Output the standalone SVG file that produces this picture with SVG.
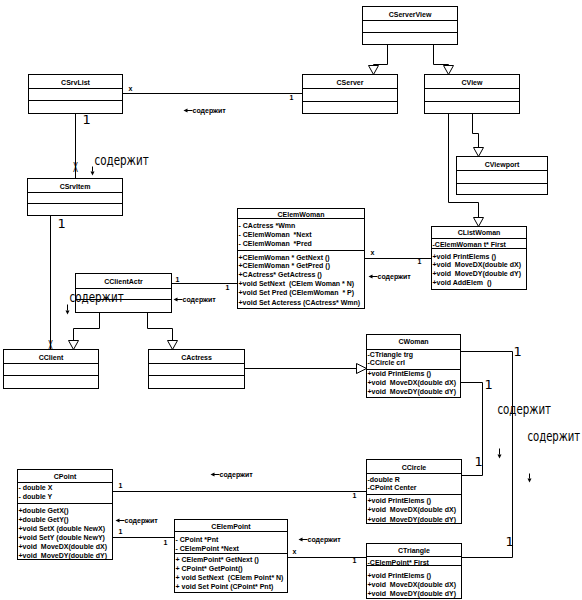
<svg xmlns="http://www.w3.org/2000/svg" width="582" height="600" viewBox="0 0 582 600">
<style>
.box{fill:#fff;stroke:#000;stroke-width:1}
.dv{stroke:#000;stroke-width:1}
.ln{fill:none;stroke:#000;stroke-width:1}
.tri{fill:#fff;stroke:#000;stroke-width:1}
.t{font-family:"Liberation Sans",Arial,sans-serif;font-weight:bold;font-size:7px;white-space:pre;fill:#000}
.h{text-anchor:middle}
.big{font-family:"DejaVu Sans",sans-serif;font-size:14px;fill:#000}
.one{font-family:"DejaVu Sans",sans-serif;font-size:13px;fill:#000}
.ah{fill:#000}
</style>
<rect width="582" height="600" fill="#fff"/>
<g transform="translate(0.5,0.5)">
<g id="connectors">
  <!-- CSrvList - CServer -->
  <line class="ln" x1="122" y1="93" x2="302" y2="93"/>
  <text class="t" x="128" y="90">x</text>
  <text class="t" x="289" y="99">1</text>
  <!-- CSrvList - CSrvItem -->
  <line class="ln" x1="75" y1="113" x2="75" y2="178"/>
  <text class="one" x="82" y="123">1</text>
  <text class="big h" x="75" y="171" font-size="11" textLength="5" lengthAdjust="spacingAndGlyphs">X</text>
  <!-- CSrvItem - CClient -->
  <line class="ln" x1="50" y1="215" x2="50" y2="349"/>
  <text class="one" x="57" y="227">1</text>
  <text class="big h" x="50" y="349" font-size="11" textLength="5" lengthAdjust="spacingAndGlyphs">X</text>
  <!-- CServerView inheritance -->
  <path class="ln" d="M387,44 V64 H373 V65"/>
  <polygon class="tri" points="368,65 378,65 373,74"/>
  <path class="ln" d="M433,44 V64 H448 V65"/>
  <polygon class="tri" points="443,65 453,65 448,74"/>
  <!-- CView inheritance -->
  <path class="ln" d="M472,113 V133 H478 V147"/>
  <polygon class="tri" points="473,147 483,147 478,156"/>
  <path class="ln" d="M448,113 V202 H478 V217"/>
  <polygon class="tri" points="473,217 483,217 478,226"/>
  <!-- CElemWoman - CListWoman -->
  <line class="ln" x1="364" y1="258" x2="431" y2="258"/>
  <text class="t" x="370" y="254">x</text>
  <text class="t" x="417" y="263">1</text>
  <!-- CClientActr - CElemWoman -->
  <line class="ln" x1="171" y1="283" x2="237" y2="283"/>
  <text class="t" x="175" y="281">1</text>
  <text class="t" x="225" y="289">1</text>
  <!-- CClientActr inheritance -->
  <path class="ln" d="M99,312 V328 H73 V340"/>
  <polygon class="tri" points="68,340 78,340 73,349"/>
  <path class="ln" d="M147,312 V328 H172 V340"/>
  <polygon class="tri" points="167,340 177,340 172,349"/>
  <!-- CActress - CWoman -->
  <line class="ln" x1="244" y1="368" x2="356" y2="368"/>
  <polygon class="tri" points="356,363 356,373 366,368"/>
  <!-- CWoman - CTriangle -->
  <path class="ln" d="M460,351 H512 V557 H461"/>
  <text class="one" x="513" y="355">1</text>
  <text class="one" x="505" y="545">1</text>
  <!-- CWoman - CCircle -->
  <path class="ln" d="M460,382 H482 V475 H461"/>
  <text class="one" x="484" y="388">1</text>
  <text class="one" x="474" y="465">1</text>
  <!-- CPoint - CCircle -->
  <line class="ln" x1="112" y1="491" x2="366" y2="491"/>
  <text class="t" x="118" y="487">1</text>
  <text class="t" x="352" y="497">1</text>
  <!-- CPoint - CElemPoint -->
  <line class="ln" x1="112" y1="537" x2="174" y2="537"/>
  <text class="t" x="118" y="533">1</text>
  <text class="t" x="163" y="544">1</text>
  <!-- CElemPoint - CTriangle -->
  <line class="ln" x1="287" y1="557" x2="366" y2="557"/>
  <text class="t" x="292" y="553">x</text>
  <text class="t" x="352" y="562">1</text>
  <!-- small "содержит" labels -->
  <g>
    <polygon class="ah" points="183,110 187,108 187,112"/><line class="ln" x1="185" y1="110" x2="192" y2="110"/>
    <text class="t" x="192" y="112">содержит</text>
    <polygon class="ah" points="173,299 177,297 177,301"/><line class="ln" x1="175" y1="299" x2="182" y2="299"/>
    <text class="t" x="182" y="301">содержит</text>
    <polygon class="ah" points="368,276 372,274 372,278"/><line class="ln" x1="370" y1="276" x2="377" y2="276"/>
    <text class="t" x="377" y="278">содержит</text>
    <polygon class="ah" points="210,474 214,472 214,476"/><line class="ln" x1="212" y1="474" x2="219" y2="474"/>
    <text class="t" x="219" y="476">содержит</text>
    <polygon class="ah" points="115,520 119,518 119,522"/><line class="ln" x1="117" y1="520" x2="124" y2="520"/>
    <text class="t" x="124" y="522">содержит</text>
    <polygon class="ah" points="298,539 302,537 302,541"/><line class="ln" x1="300" y1="539" x2="307" y2="539"/>
    <text class="t" x="307" y="541">содержит</text>
  </g>
</g>
<g id="CServerView">
  <rect class="box" x="362" y="6" width="95" height="38"/>
  <line class="dv" x1="362" y1="20" x2="457" y2="20"/><line class="dv" x1="362" y1="32" x2="457" y2="32"/>
  <text class="t h" x="409.5" y="16">CServerView</text>
</g>
<g id="CSrvList">
  <rect class="box" x="28" y="74" width="94" height="39"/>
  <line class="dv" x1="28" y1="88" x2="122" y2="88"/><line class="dv" x1="28" y1="100" x2="122" y2="100"/>
  <text class="t h" x="75" y="84">CSrvList</text>
</g>
<g id="CServer">
  <rect class="box" x="302" y="74" width="95" height="39"/>
  <line class="dv" x1="302" y1="88" x2="397" y2="88"/><line class="dv" x1="302" y1="101" x2="397" y2="101"/>
  <text class="t h" x="349.5" y="84">CServer</text>
</g>
<g id="CView">
  <rect class="box" x="424" y="74" width="95" height="39"/>
  <line class="dv" x1="424" y1="88" x2="519" y2="88"/><line class="dv" x1="424" y1="101" x2="519" y2="101"/>
  <text class="t h" x="471.5" y="84">CView</text>
</g>
<g id="CViewport">
  <rect class="box" x="456" y="156" width="91" height="38"/>
  <line class="dv" x1="456" y1="170" x2="547" y2="170"/><line class="dv" x1="456" y1="183" x2="547" y2="183"/>
  <text class="t h" x="501.5" y="166">CViewport</text>
</g>
<g id="CSrvItem">
  <rect class="box" x="27" y="178" width="95" height="37"/>
  <line class="dv" x1="27" y1="192" x2="122" y2="192"/><line class="dv" x1="27" y1="203" x2="122" y2="203"/>
  <text class="t h" x="74.5" y="188">CSrvItem</text>
</g>
<g id="CElemWoman">
  <rect class="box" x="237" y="208" width="127" height="100"/>
  <line class="dv" x1="237" y1="218" x2="364" y2="218"/><line class="dv" x1="237" y1="250" x2="364" y2="250"/>
  <text class="t h" x="300.5" y="216">CElemWoman</text>
  <text class="t" x="238" y="227">- CActress *Wmn</text>
  <text class="t" x="238" y="236">- CElemWoman  *Next</text>
  <text class="t" x="238" y="245">- CElemWoman  *Pred</text>
  <text class="t" x="238" y="259">+CElemWoman * GetNext ()</text>
  <text class="t" x="238" y="267.5">+CElemWoman * GetPred ()</text>
  <text class="t" x="238" y="276">+CActress* GetActress ()</text>
  <text class="t" x="238" y="285">+void SetNext  (CElem Woman * N)</text>
  <text class="t" x="238" y="294">+void Set Pred (CElemWoman  * P)</text>
  <text class="t" x="238" y="304">+void Set Acteress (CActress* Wmn)</text>
</g>
<g id="CListWoman">
  <rect class="box" x="431" y="226" width="95" height="63"/>
  <line class="dv" x1="431" y1="238" x2="526" y2="238"/><line class="dv" x1="431" y1="248" x2="526" y2="248"/>
  <text class="t h" x="478.5" y="234">CListWoman</text>
  <text class="t" x="432" y="246">-CElemWoman t* First</text>
  <text class="t" x="432" y="258.5">+void PrintElems ()</text>
  <text class="t" x="432" y="266.5">+void  MoveDX(double dX)</text>
  <text class="t" x="432" y="275">+void  MoveDY(double dY)</text>
  <text class="t" x="432" y="284">+void AddElem  ()</text>
</g>
<g id="CClientActr">
  <rect class="box" x="75" y="273" width="96" height="39"/>
  <line class="dv" x1="75" y1="288" x2="171" y2="288"/><line class="dv" x1="75" y1="299" x2="171" y2="299"/>
  <text class="t h" x="123" y="283">CClientActr</text>
</g>
<g id="CClient">
  <rect class="box" x="3" y="349" width="95" height="39"/>
  <line class="dv" x1="3" y1="363" x2="98" y2="363"/><line class="dv" x1="3" y1="375" x2="98" y2="375"/>
  <text class="t h" x="50.5" y="359">CClient</text>
</g>
<g id="CActress">
  <rect class="box" x="148" y="349" width="96" height="39"/>
  <line class="dv" x1="148" y1="363" x2="244" y2="363"/><line class="dv" x1="148" y1="375" x2="244" y2="375"/>
  <text class="t h" x="196" y="359">CActress</text>
</g>
<g id="CWoman">
  <rect class="box" x="366" y="334" width="94" height="63"/>
  <line class="dv" x1="366" y1="349" x2="460" y2="349"/><line class="dv" x1="366" y1="369" x2="460" y2="369"/>
  <text class="t h" x="413" y="343">CWoman</text>
  <text class="t" x="367" y="356">-CTriangle trg</text>
  <text class="t" x="367" y="364">-CCircle crl</text>
  <text class="t" x="367" y="375">+void PrintElems ()</text>
  <text class="t" x="367" y="384">+void  MoveDX(double dX)</text>
  <text class="t" x="367" y="393">+void  MoveDY(double dY)</text>
</g>
<g id="CCircle">
  <rect class="box" x="366" y="459" width="95" height="64"/>
  <line class="dv" x1="366" y1="473" x2="461" y2="473"/><line class="dv" x1="366" y1="494" x2="461" y2="494"/>
  <text class="t h" x="413.5" y="469">CCircle</text>
  <text class="t" x="367" y="481.5">-double R</text>
  <text class="t" x="367" y="489">-CPoint Center</text>
  <text class="t" x="367" y="502">+void PrintElems ()</text>
  <text class="t" x="367" y="511.5">+void  MoveDX(double dX)</text>
  <text class="t" x="367" y="521">+void  MoveDY(double dY)</text>
</g>
<g id="CTriangle">
  <rect class="box" x="366" y="543" width="95" height="55"/>
  <line class="dv" x1="366" y1="556" x2="461" y2="556"/><line class="dv" x1="366" y1="565" x2="461" y2="565"/>
  <text class="t h" x="413.5" y="552">CTriangle</text>
  <text class="t" x="367" y="564">-CElemPoint* First</text>
  <text class="t" x="367" y="577">+void PrintElems ()</text>
  <text class="t" x="367" y="586">+void  MoveDX(double dX)</text>
  <text class="t" x="367" y="595">+void  MoveDY(double dY)</text>
</g>
<g id="CPoint">
  <rect class="box" x="17" y="469" width="95" height="90"/>
  <line class="dv" x1="17" y1="482" x2="112" y2="482"/><line class="dv" x1="17" y1="503" x2="112" y2="503"/>
  <text class="t h" x="64.5" y="478.5">CPoint</text>
  <text class="t" x="18" y="489">- double X</text>
  <text class="t" x="18" y="498">- double Y</text>
  <text class="t" x="18" y="512">+double GetX()</text>
  <text class="t" x="18" y="521">+double GetY()</text>
  <text class="t" x="18" y="530">+void SetX (double NewX)</text>
  <text class="t" x="18" y="539">+void SetY (double NewY)</text>
  <text class="t" x="18" y="548">+void  MoveDX(double dX)</text>
  <text class="t" x="18" y="557.5">+void  MoveDY(double dY)</text>
</g>
<g id="CElemPoint">
  <rect class="box" x="174" y="519" width="113" height="73"/>
  <line class="dv" x1="174" y1="531" x2="287" y2="531"/><line class="dv" x1="174" y1="553" x2="287" y2="553"/>
  <text class="t h" x="230.5" y="528.5">CElemPoint</text>
  <text class="t" x="175" y="541">- CPoint *Pnt</text>
  <text class="t" x="175" y="550">- CElemPoint *Next</text>
  <text class="t" x="175" y="561">+ CElemPoint* GetNext ()</text>
  <text class="t" x="175" y="570">+ CPoint* GetPoint()</text>
  <text class="t" x="175" y="579">+ void SetNext  (CElem Point* N)</text>
  <text class="t" x="175" y="588.5">+ void Set Point (CPoint* Pnt)</text>
</g>
<g id="labels">
  <text class="big" transform="translate(94,164) scale(0.74,1)">содержит</text>
  <line class="ln" x1="92" y1="166" x2="92" y2="171"/><polygon class="ah" points="90,171 94,171 92,175"/>
  <text class="big" transform="translate(69,301) scale(0.74,1)">содержит</text>
  <line class="ln" x1="67" y1="304" x2="67" y2="310"/><polygon class="ah" points="65,310 69,310 67,314"/>
  <text class="big" transform="translate(497,413) scale(0.73,1)">содержит</text>
  <line class="ln" x1="499" y1="448" x2="499" y2="454"/><polygon class="ah" points="497,454 501,454 499,458"/>
  <text class="big" transform="translate(527,440) scale(0.72,1)">содержит</text>
  <line class="ln" x1="529" y1="473" x2="529" y2="478"/><polygon class="ah" points="527,478 531,478 529,482"/>
</g>
</g>
</svg>
